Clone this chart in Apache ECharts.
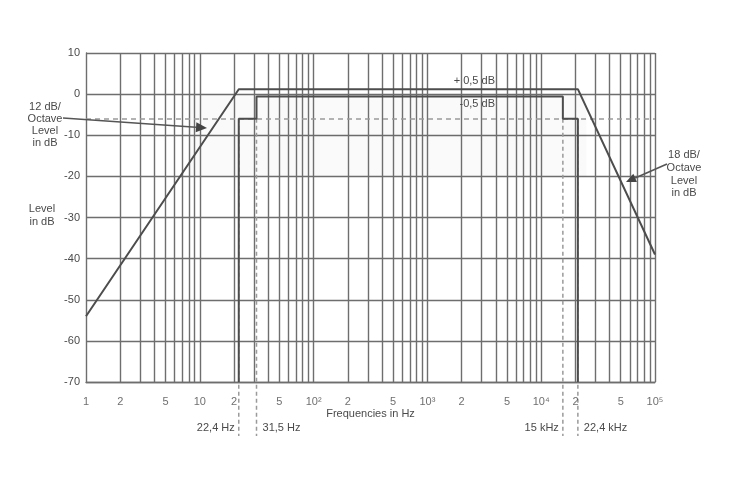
<!DOCTYPE html>
<html><head><meta charset="utf-8">
<script src="https://cdn.jsdelivr.net/npm/echarts@6/dist/echarts.min.js"></script>
<style>html,body{margin:0;padding:0;background:#fff}#c{width:730px;height:480px}</style>
</head><body><div id="c"></div>
<script>
// ---- data ----
const outerFreq = [1, 22, 21000, 100000];
const outerLevel = [-54, 1.2, 1.2, -39];
const innerFreq = [22, 22, 31.5, 31.5, 15500, 15500, 21000, 21000];
const innerLevel = [-70, -6, -6, -0.6, -0.6, -6, -6, -70];
const markerFreq = [22, 31.5, 15500, 21000];
const markerLabels = ['22,4 Hz', '31,5 Hz', '15 kHz', '22,4 kHz'];
const markerLevel = -6;
const toleranceLevel = -6;
const tickFreq = [1, 2, 5, 10, 20, 50, 100, 200, 500, 1000, 2000, 5000, 10000, 20000, 50000, 100000];
const tickLabels = ['1', '2', '5', '10', '2', '5', '10²', '2', '5', '10³', '2', '5', '10⁴', '2', '5', '10⁵'];
const gridFreq = [2, 3, 4, 5, 6, 7, 8, 9, 10,
  20, 30, 40, 50, 60, 70, 80, 90, 100,
  200, 300, 400, 500, 600, 700, 800, 900, 1000,
  2000, 3000, 4000, 5000, 6000, 7000, 8000, 9000, 10000,
  20000, 30000, 40000, 50000, 60000, 70000, 80000, 90000, 100000];
const yMin = -70, yMax = 10, yStep = 10;

// ---- chart ----
const FONT = 'Liberation Sans, Arial, sans-serif';
const TXT = '#4a4a4a';
const GRIDC = '#6e6e6e';
const chart = echarts.init(document.getElementById('c'), null, {renderer: 'canvas'});

function arrow(x1, y1, x2, y2, len, half) {
  const dx = x2 - x1, dy = y2 - y1, L = Math.hypot(dx, dy);
  const ux = dx / L, uy = dy / L, px = -uy, py = ux;
  const bx = x2 - ux * len, by = y2 - uy * len;
  return [
    {type: 'line', shape: {x1, y1, x2: bx, y2: by}, style: {stroke: '#555', lineWidth: 1.6}, z: 50},
    {type: 'polygon', shape: {points: [[x2, y2], [bx + px * half, by + py * half], [bx - px * half, by - py * half]]},
      style: {fill: '#444'}, z: 50}
  ];
}
function txt(x, y, text, align, lh) {
  return {type: 'text', x, y, z: 50, style: {text, fill: TXT, font: '11px ' + FONT, align: align, verticalAlign: 'top', lineHeight: lh || 12}};
}

chart.setOption({
  animation: false,
  backgroundColor: '#fff',
  grid: {left: 86, right: 75, top: 53, bottom: 98, containLabel: false},
  xAxis: {
    type: 'log', logBase: 10, min: 1, max: 100000,
    axisLine: {show: true, onZero: false, lineStyle: {color: GRIDC, width: 1.4}},
    axisTick: {show: false}, axisLabel: {show: false}, splitLine: {show: false},
    name: 'Frequencies in Hz', nameLocation: 'middle', nameGap: 26,
    nameTextStyle: {color: TXT, fontSize: 11, fontFamily: FONT}
  },
  yAxis: {
    type: 'value', min: yMin, max: yMax, interval: yStep,
    axisLine: {show: true, lineStyle: {color: GRIDC, width: 1.4}},
    axisTick: {show: false},
    axisLabel: {color: TXT, fontSize: 11, fontFamily: FONT, margin: 6},
    splitLine: {show: true, lineStyle: {color: GRIDC, width: 1.4}}
  },
  series: [
    { // vertical log grid
      type: 'line', data: [], z: 1, silent: true,
      markLine: {silent: true, symbol: 'none', label: {show: false}, animation: false,
        lineStyle: {color: GRIDC, width: 1.4, type: 'solid'},
        data: gridFreq.map(f => ({xAxis: f}))}
    },
    { // -6 dB dashed
      type: 'line', data: [], z: 2, silent: true,
      markLine: {silent: true, symbol: 'none', label: {show: false}, animation: false,
        lineStyle: {color: '#9a9a9a', width: 1.5, type: [5, 4]},
        data: [{yAxis: toleranceLevel}]},
      markArea: {silent: true, itemStyle: {color: 'rgba(0,0,0,0.02)'},
        data: [[{xAxis: 8, yAxis: 0}, {xAxis: 25000, yAxis: -20}]]}
    },
    { // dashed markers extending below axis
      type: 'custom', z: 3, silent: true, clip: false,
      data: markerFreq.map(f => [f, markerLevel]),
      renderItem: function (params, api) {
        const p1 = api.coord([api.value(0), api.value(1)]);
        const p2 = api.coord([api.value(0), yMin]);
        const i = params.dataIndex;
        const left = (i === 0 || i === 2);
        return {type: 'group', children: [
          {type: 'line', shape: {x1: p1[0], y1: p1[1], x2: p2[0], y2: p2[1] + 54},
            style: {stroke: '#9a9a9a', lineWidth: 1.5, lineDash: [4, 3]}},
          {type: 'text', x: p2[0] + (left ? -4 : 6), y: p2[1] + 46,
            style: {text: markerLabels[i], fill: TXT, font: '11px ' + FONT, align: left ? 'right' : 'left', verticalAlign: 'middle'}}
        ]};
      }
    },
    {
      type: 'line', name: 'outer', z: 5, symbol: 'none', silent: true,
      data: outerFreq.map((f, i) => [f, outerLevel[i]]),
      lineStyle: {color: '#4d4d4d', width: 2}
    },
    {
      type: 'line', name: 'inner', z: 5, symbol: 'none', silent: true,
      data: innerFreq.map((f, i) => [f, innerLevel[i]]),
      lineStyle: {color: '#4d4d4d', width: 2}
    },
    { // x tick labels
      type: 'scatter', z: 6, silent: true, symbolSize: 0, clip: false,
      data: tickFreq.map(f => [f, yMin]),
      label: {show: true, position: 'bottom', distance: 14, color: TXT, fontSize: 11, fontFamily: FONT,
        formatter: p => tickLabels[p.dataIndex]}
    }
  ],
  graphic: [
    txt(45, 101, '12 dB/\nOctave\nLevel\nin dB', 'center', 12),
    txt(42, 202, 'Level\nin dB', 'center', 13),
    txt(684, 149, '18 dB/\nOctave\nLevel\nin dB', 'center', 12.7),
    txt(495, 75, '+ 0,5 dB', 'right'),
    txt(495, 98, '-0,5 dB', 'right'),
    ...arrow(63, 118, 207, 128, 11, 5),
    ...arrow(667, 164, 626, 182, 10, 4.5)
  ]
});
</script></body></html>
